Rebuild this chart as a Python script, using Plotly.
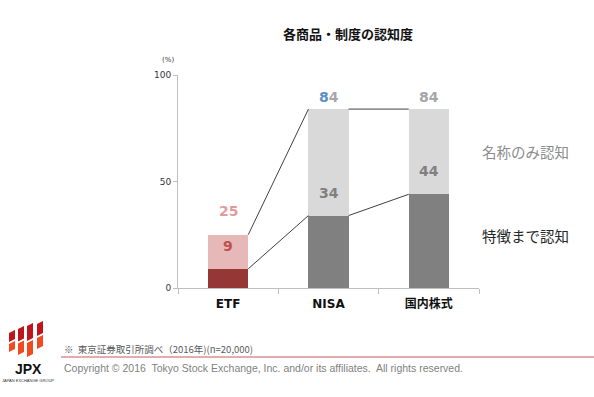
import plotly.graph_objects as go

categories = ["ETF", "NISA", "国内株式"]
feature_known = [9, 34, 44]        # 特徴まで認知
total_known = [25, 84, 84]         # 名称のみ認知 を含む合計
y_ticks = [0, 50, 100]

name_only = [t - f for t, f in zip(total_known, feature_known)]

W, H = 594, 397
L, R, T, B = 178, 115, 75, 109
PW, PH = W - L - R, H - T - B

def px(x):
    return (x - L) / PW

def py(y):
    return (H - B - y) / PH

dark_colors = ["#953735", "#808080", "#808080"]
light_colors = ["#e6b9b8", "#d9d9d9", "#d9d9d9"]
xs = list(range(len(categories)))
bw = 0.4

fig = go.Figure()
fig.add_trace(go.Bar(x=xs, y=feature_known, width=bw, marker=dict(color=dark_colors, line=dict(width=0)),
                     name="特徴まで認知", hoverinfo="skip"))
fig.add_trace(go.Bar(x=xs, y=name_only, width=bw, marker=dict(color=light_colors, line=dict(width=0)),
                     name="名称のみ認知", hoverinfo="skip"))

# connector lines
for series in (total_known, feature_known):
    lx, ly = [], []
    for i in range(len(categories) - 1):
        lx += [xs[i] + bw / 2, xs[i + 1] - bw / 2, None]
        ly += [series[i], series[i + 1], None]
    fig.add_trace(go.Scatter(x=lx, y=ly, mode="lines", line=dict(color="#404040", width=1),
                             hoverinfo="skip", showlegend=False))

num_font = "DejaVu Sans, Verdana, sans-serif"
ann = []
fk_colors = ["#c0504d", "#808080", "#808080"]
for i, v in enumerate(feature_known):
    ann.append(dict(x=xs[i], y=v, yshift=23, text="<b>%d</b>" % v, showarrow=False,
                    xanchor="center", yanchor="middle",
                    font=dict(family=num_font, size=14, color=fk_colors[i])))
tot_colors = ["#e39a9a", "#a6a6a6", "#a6a6a6"]
tot_shift = [24, 12, 12]
for i, v in enumerate(total_known):
    s = str(v)
    if i == 1:
        s = '<span style="color:#5b8fc7">%s</span>%s' % (s[0], s[1:])
    ann.append(dict(x=xs[i], y=v, yshift=tot_shift[i], text="<b>%s</b>" % s, showarrow=False,
                    xanchor="center", yanchor="middle",
                    font=dict(family=num_font, size=14, color=tot_colors[i])))

def note(x, y, text, size, color, family, xanchor="center"):
    ann.append(dict(xref="paper", yref="paper", x=px(x), y=py(y), text=text, showarrow=False,
                    xanchor=xanchor, yanchor="middle", font=dict(family=family, size=size, color=color)))

note(348, 33, "<b>各商品・制度の認知度</b>", 13, "#111111", "Noto Sans CJK JP")
note(168, 60, "(%)", 7, "#333333", num_font)
note(480, 151, "名称のみ認知", 14.5, "#8c8c8c", "Noto Sans CJK JP", "left")
note(480, 235, "特徴まで認知", 14.5, "#262626", "Noto Sans CJK JP", "left")
note(62, 349, "※  東京証券取引所調べ（2016年)(n=20,000)", 9.5, "#595959",
     "Noto Sans CJK JP, Liberation Sans", "left")
note(62, 368, "Copyright © 2016  Tokyo Stock Exchange, Inc. and/or its affiliates.  All rights reserved.",
     10.5, "#7f7f7f", "Liberation Sans, Arial", "left")
note(28, 369, "<b>JPX</b>", 14, "#111111", "Liberation Sans, Arial")
note(28, 380, "JAPAN EXCHANGE GROUP", 4, "#333333", "Liberation Sans, Arial")

shapes = []
shapes.append(dict(type="line", xref="paper", yref="paper", x0=px(61), x1=px(594), y0=py(357), y1=py(357),
                   line=dict(color="#c9595b", width=1)))
bars = [(9, 330, 352), (18, 326, 355), (27, 323, 357), (37, 321, 349)]
for x0, ytop, ybot in bars:
    w = 6
    ymid = (ytop + ybot) / 2
    def pts(ya, yb):
        return [(x0, ya + 3), (x0 + w, ya), (x0 + w, yb - 3), (x0, yb)]
    for (ya, yb, col) in [(ytop, ymid + 1, "#c0141c"), (ymid, ybot, "#f04a1e")]:
        p = pts(ya, yb)
        path = "M " + " L ".join("%f,%f" % (px(a), py(b)) for a, b in p) + " Z"
        shapes.append(dict(type="path", xref="paper", yref="paper", path=path,
                           fillcolor=col, line=dict(width=0)))

fig.update_layout(
    width=W, height=H, barmode="stack", showlegend=False,
    margin=dict(l=L, r=R, t=T, b=B, pad=0),
    paper_bgcolor="white", plot_bgcolor="white",
    annotations=ann, shapes=shapes,
    xaxis=dict(range=[-0.5, 2.5], tickvals=xs, ticktext=["<b>%s</b>" % c for c in categories],
               ticks="", showline=True, linecolor="#bfbfbf", linewidth=1, showgrid=False, zeroline=False,
               ticklabelstandoff=5,
               tickfont=dict(family="DejaVu Sans, Noto Sans CJK JP", size=12, color="#111111"),
               minor=dict(tick0=0.5, dtick=1, ticks="outside", ticklen=5, tickcolor="#bfbfbf", showgrid=False)),
    yaxis=dict(range=[0, 100], tickvals=y_ticks, ticks="outside", ticklen=4, tickcolor="#bfbfbf",
               showline=True, linecolor="#bfbfbf", linewidth=1, showgrid=False, zeroline=False,
               tickfont=dict(family=num_font, size=9, color="#333344")),
)

fig.write_html("out.html", config={"displayModeBar": False},
               post_script="document.body.style.margin='0';")
